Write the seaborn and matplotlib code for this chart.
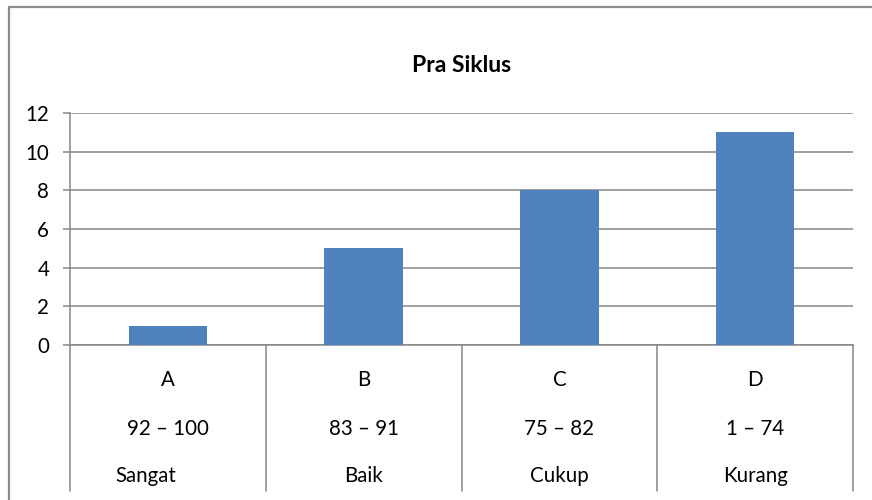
import matplotlib
matplotlib.use("Agg")
import matplotlib.pyplot as plt
import matplotlib.transforms as mtransforms
from matplotlib.lines import Line2D
import seaborn as sns
import pandas as pd

# ---- data ----
categories = ["A", "B", "C", "D"]
values = [1, 5, 8, 11]
ranges = ["92 \u2013 100", "83 \u2013 91", "75 \u2013 82", "1 \u2013 74"]
levels = ["Sangat", "Baik", "Cukup", "Kurang"]
y_ticks = [0, 2, 4, 6, 8, 10, 12]
title = "Pra Siklus"

sns.set_theme(style="white")
plt.rcParams["font.family"] = ["Lato", "DejaVu Sans"]

W, H = 872, 500
fig = plt.figure(figsize=(W / 100, H / 100), dpi=100)
left, right, top, bottom = 70, 853, 113, 345
ax = fig.add_axes([left / W, 1 - bottom / H, (right - left) / W, (bottom - top) / H])

df = pd.DataFrame({"cat": categories, "val": values})
sns.barplot(data=df, x="cat", y="val", color="#4F81BD", saturation=1,
            width=0.4, ax=ax, zorder=3, linewidth=0, edgecolor="none")

grid_c = "#868686"
fs = 14.8
ax.set_ylim(0, 12)
ax.set_xlim(-0.5, len(categories) - 0.5)
ax.set_yticks(y_ticks)
ax.set_yticklabels([str(t) for t in y_ticks], fontsize=fs, color="black")
ax.yaxis.grid(True, color=grid_c, linewidth=1.1, zorder=0)
ax.set_axisbelow(True)
ax.tick_params(axis="y", direction="out", length=5, width=1.1, color=grid_c,
               pad=10, left=True)
ax.set_xticks([])
ax.set_xlabel("")
ax.set_ylabel("")
for s in ["top", "right"]:
    ax.spines[s].set_visible(False)
ax.spines["left"].set_color(grid_c)
ax.spines["left"].set_linewidth(1.1)
ax.spines["bottom"].set_color(grid_c)
ax.spines["bottom"].set_linewidth(1.1)

# category separators extending below the axis
tr = ax.get_xaxis_transform()
depth = -(491 - bottom) / (bottom - top)
for i in range(len(categories) + 1):
    xb = i - 0.5
    ax.add_line(Line2D([xb, xb], [0, depth], transform=tr, color=grid_c,
                       linewidth=1.1, clip_on=False))

# multi-level category labels
rows_px = [380, 429, 476]
label_offsets_px = {0: -22}
for i in range(len(categories)):
    for r, lab in enumerate([categories[i], ranges[i], levels[i]]):
        yf = -(rows_px[r] - bottom) / (bottom - top)
        dx = label_offsets_px.get(i, 0) if r == 2 else 0
        t = tr + mtransforms.ScaledTranslation(dx / 100, 0, fig.dpi_scale_trans)
        ax.text(i, yf, lab, transform=t, ha="center", va="center",
                fontsize=fs, color="black")

# title
fig.text((left + right) / 2 / W, 1 - 66 / H, title, ha="center", va="center",
         fontsize=16.5, fontweight="bold", color="black")

# outer chart border (left & top visible)
bc = "#8C8C8C"
fig.add_artist(Line2D([9 / W, 9 / W], [0, 1 - 7 / H], transform=fig.transFigure,
                      color=bc, linewidth=1.6))
fig.add_artist(Line2D([9 / W, 1], [1 - 7 / H, 1 - 7 / H], transform=fig.transFigure,
                      color=bc, linewidth=1.6))

fig.savefig("out.png", dpi=100, facecolor="white")
